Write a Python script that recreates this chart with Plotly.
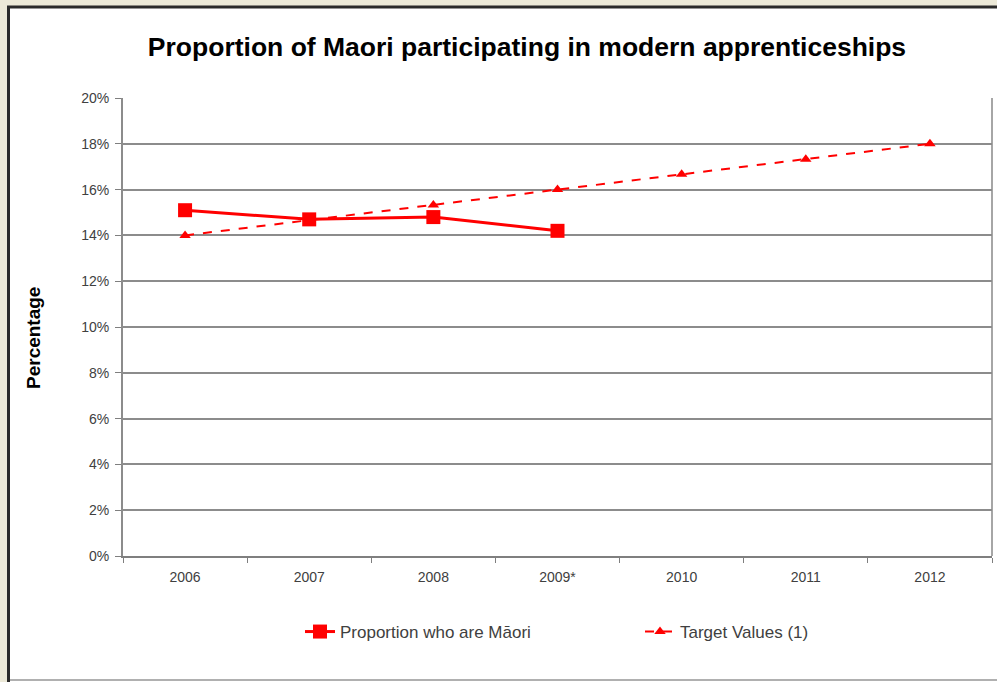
import plotly.graph_objects as go

years = ["2006", "2007", "2008", "2009*", "2010", "2011", "2012"]
maori_years = ["2006", "2007", "2008", "2009*"]
maori_pct = [15.1, 14.7, 14.8, 14.2]
target_pct = [14.0, 14.67, 15.33, 16.0, 16.67, 17.33, 18.0]
y_ticks = [0, 2, 4, 6, 8, 10, 12, 14, 16, 18, 20]
y_ticktext = [f"{v}%" for v in y_ticks]

W, H = 997, 682
L, R, T, B = 123, 992, 98, 556

def px(x):
    return (x - L) / (R - L)

def py(y):
    return (B - y) / (B - T)

fig = go.Figure()
fig.add_trace(go.Scatter(
    x=maori_years, y=maori_pct, name="Proportion who are Māori",
    mode="lines+markers",
    line=dict(color="#FF0000", width=3),
    marker=dict(symbol="square", size=14, color="#FF0000"),
    legend="legend",
))
fig.add_trace(go.Scatter(
    x=years, y=target_pct, name="Target Values (1)",
    mode="lines+markers",
    line=dict(color="#FF0000", width=2, dash="dash"),
    marker=dict(symbol="triangle-up", size=10, color="#FF0000"),
    legend="legend2",
))

grey_txt = "#404040"
leg_common = dict(orientation="h", yanchor="middle", font=dict(size=17, color=grey_txt),
                  bgcolor="rgba(0,0,0,0)")
fig.update_layout(
    width=W, height=H, autosize=False,
    margin=dict(l=L, r=W - R, t=T, b=H - B, pad=0),
    paper_bgcolor="white", plot_bgcolor="white",
    font=dict(family="Liberation Sans, Arial", color=grey_txt),
    title=dict(text="<b>Proportion of Maori participating in modern apprenticeships</b>",
               x=527 / W, xanchor="center", y=1 - 47 / H, yanchor="middle",
               font=dict(size=26.5, color="black", family="Liberation Sans, Arial")),
    xaxis=dict(categoryorder="array", categoryarray=years, type="category",
               range=[-0.5, 6.5], showgrid=False, zeroline=False,
               showline=True, linecolor="#7F7F7F", linewidth=2,
               ticks="outside", tickson="boundaries", ticklen=5, tickcolor="#7F7F7F", tickwidth=1,
               ticklabelstandoff=7,
               tickfont=dict(size=14, color=grey_txt), fixedrange=True),
    yaxis=dict(range=[0, 20], tickmode="array", tickvals=y_ticks, ticktext=y_ticktext,
               showgrid=True, gridcolor="#8C8C8C", gridwidth=2, zeroline=False,
               showline=True, linecolor="#8C8C8C", linewidth=2,
               ticks="outside", ticklen=6, tickcolor="#7F7F7F", tickwidth=1,
               ticklabelstandoff=3,
               tickfont=dict(size=14, color=grey_txt), fixedrange=True),
    legend=dict(x=px(300), xanchor="left", y=py(632), **leg_common),
    legend2=dict(x=px(640), xanchor="left", y=py(632), **leg_common),
    showlegend=True,
)

fig.add_annotation(text="<b>Percentage</b>", xref="paper", yref="paper",
                   x=px(33), y=py(338), xanchor="center", yanchor="middle",
                   textangle=-90, showarrow=False,
                   font=dict(size=19, color="black"))

shapes = [
    dict(type="rect", xref="paper", yref="paper", x0=px(0), x1=px(W), y0=py(0), y1=py(6),
         fillcolor="#ECE9D8", line=dict(width=0), layer="above"),
    dict(type="rect", xref="paper", yref="paper", x0=px(0), x1=px(7), y0=py(0), y1=py(H),
         fillcolor="#ECE9D8", line=dict(width=0), layer="above"),
    dict(type="line", xref="paper", yref="paper", x0=px(7), x1=px(W), y0=py(7), y1=py(7),
         line=dict(color="#2A2A2A", width=3), layer="above"),
    dict(type="line", xref="paper", yref="paper", x0=px(8.5), x1=px(8.5), y0=py(6), y1=py(H),
         line=dict(color="#2A2A2A", width=3), layer="above"),
    dict(type="line", xref="paper", yref="paper", x0=px(10), x1=px(W), y0=py(680), y1=py(680),
         line=dict(color="#B0B0B0", width=2), layer="above"),
    dict(type="line", xref="paper", yref="paper", x0=1, x1=1, y0=0, y1=1,
         line=dict(color="#A6A6A6", width=2), layer="below"),
]
fig.update_layout(shapes=shapes)

fig.write_html("out.html", config={"displayModeBar": False},
               post_script="document.body.style.margin='0';document.body.style.overflow='hidden';")
